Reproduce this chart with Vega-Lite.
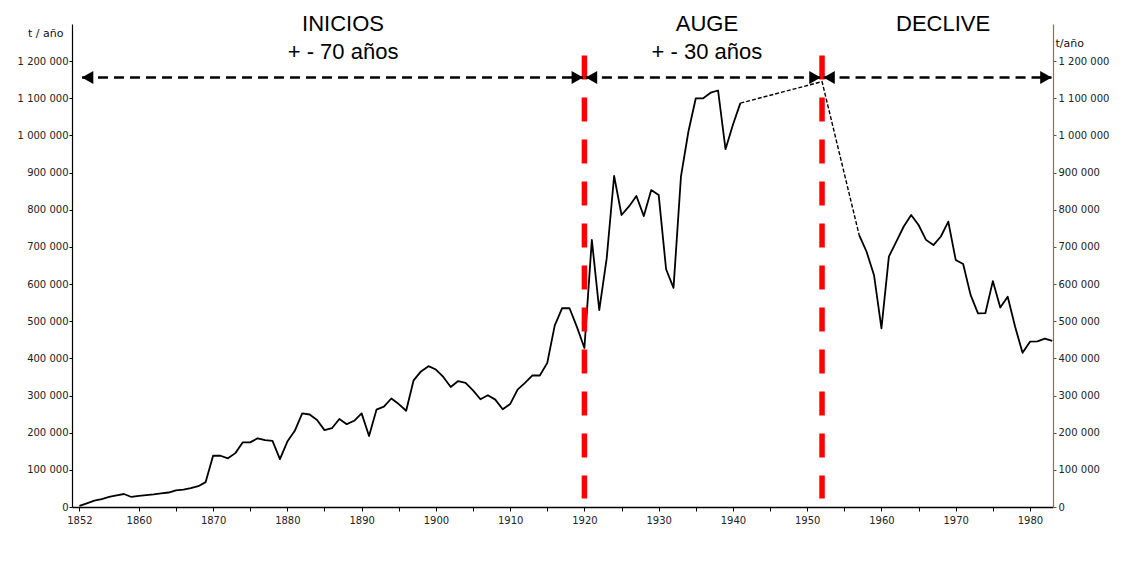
{
  "$schema": "https://vega.github.io/schema/vega-lite/v6.json",
  "width": 981,
  "height": 483,
  "autosize": "none",
  "padding": {"left": 72, "top": 24, "right": 80, "bottom": 60},
  "background": "white",
  "config": {
    "view": {"stroke": null}
  },
  "datasets": {
    "produccion": [
      {"year": 1852, "t": 3000, "tramo": "A"}, {"year": 1853, "t": 10000, "tramo": "A"},
      {"year": 1854, "t": 17000, "tramo": "A"}, {"year": 1855, "t": 21000, "tramo": "A"},
      {"year": 1856, "t": 27000, "tramo": "A"}, {"year": 1857, "t": 31000, "tramo": "A"},
      {"year": 1858, "t": 35000, "tramo": "A"}, {"year": 1859, "t": 27000, "tramo": "A"},
      {"year": 1860, "t": 30000, "tramo": "A"}, {"year": 1861, "t": 32000, "tramo": "A"},
      {"year": 1862, "t": 34000, "tramo": "A"}, {"year": 1863, "t": 36500, "tramo": "A"},
      {"year": 1864, "t": 39000, "tramo": "A"}, {"year": 1865, "t": 44500, "tramo": "A"},
      {"year": 1866, "t": 47000, "tramo": "A"}, {"year": 1867, "t": 51000, "tramo": "A"},
      {"year": 1868, "t": 56000, "tramo": "A"}, {"year": 1869, "t": 67000, "tramo": "A"},
      {"year": 1870, "t": 138000, "tramo": "A"}, {"year": 1871, "t": 138000, "tramo": "A"},
      {"year": 1872, "t": 131000, "tramo": "A"}, {"year": 1873, "t": 145000, "tramo": "A"},
      {"year": 1874, "t": 174000, "tramo": "A"}, {"year": 1875, "t": 174000, "tramo": "A"},
      {"year": 1876, "t": 185000, "tramo": "A"}, {"year": 1877, "t": 180000, "tramo": "A"},
      {"year": 1878, "t": 178000, "tramo": "A"}, {"year": 1879, "t": 129000, "tramo": "A"},
      {"year": 1880, "t": 176000, "tramo": "A"}, {"year": 1881, "t": 205000, "tramo": "A"},
      {"year": 1882, "t": 252000, "tramo": "A"}, {"year": 1883, "t": 249000, "tramo": "A"},
      {"year": 1884, "t": 234000, "tramo": "A"}, {"year": 1885, "t": 207000, "tramo": "A"},
      {"year": 1886, "t": 212000, "tramo": "A"}, {"year": 1887, "t": 237000, "tramo": "A"},
      {"year": 1888, "t": 223000, "tramo": "A"}, {"year": 1889, "t": 232000, "tramo": "A"},
      {"year": 1890, "t": 252000, "tramo": "A"}, {"year": 1891, "t": 191000, "tramo": "A"},
      {"year": 1892, "t": 262000, "tramo": "A"}, {"year": 1893, "t": 270000, "tramo": "A"},
      {"year": 1894, "t": 292000, "tramo": "A"}, {"year": 1895, "t": 277000, "tramo": "A"},
      {"year": 1896, "t": 259000, "tramo": "A"}, {"year": 1897, "t": 341000, "tramo": "A"},
      {"year": 1898, "t": 365000, "tramo": "A"}, {"year": 1899, "t": 379000, "tramo": "A"},
      {"year": 1900, "t": 370000, "tramo": "A"}, {"year": 1901, "t": 350000, "tramo": "A"},
      {"year": 1902, "t": 323000, "tramo": "A"}, {"year": 1903, "t": 339000, "tramo": "A"},
      {"year": 1904, "t": 334000, "tramo": "A"}, {"year": 1905, "t": 314000, "tramo": "A"},
      {"year": 1906, "t": 290000, "tramo": "A"}, {"year": 1907, "t": 301000, "tramo": "A"},
      {"year": 1908, "t": 289000, "tramo": "A"}, {"year": 1909, "t": 263000, "tramo": "A"},
      {"year": 1910, "t": 277000, "tramo": "A"}, {"year": 1911, "t": 316000, "tramo": "A"},
      {"year": 1912, "t": 334000, "tramo": "A"}, {"year": 1913, "t": 354000, "tramo": "A"},
      {"year": 1914, "t": 354000, "tramo": "A"}, {"year": 1915, "t": 388000, "tramo": "A"},
      {"year": 1916, "t": 488000, "tramo": "A"}, {"year": 1917, "t": 535000, "tramo": "A"},
      {"year": 1918, "t": 535000, "tramo": "A"}, {"year": 1919, "t": 484000, "tramo": "A"},
      {"year": 1920, "t": 428000, "tramo": "A"}, {"year": 1921, "t": 719000, "tramo": "A"},
      {"year": 1922, "t": 530000, "tramo": "A"}, {"year": 1923, "t": 669000, "tramo": "A"},
      {"year": 1924, "t": 891000, "tramo": "A"}, {"year": 1925, "t": 786000, "tramo": "A"},
      {"year": 1926, "t": 809000, "tramo": "A"}, {"year": 1927, "t": 837000, "tramo": "A"},
      {"year": 1928, "t": 783000, "tramo": "A"}, {"year": 1929, "t": 853000, "tramo": "A"},
      {"year": 1930, "t": 840000, "tramo": "A"}, {"year": 1931, "t": 640000, "tramo": "A"},
      {"year": 1932, "t": 590000, "tramo": "A"}, {"year": 1933, "t": 889000, "tramo": "A"},
      {"year": 1934, "t": 1010000, "tramo": "A"}, {"year": 1935, "t": 1100000, "tramo": "A"},
      {"year": 1936, "t": 1100000, "tramo": "A"}, {"year": 1937, "t": 1115000, "tramo": "A"},
      {"year": 1938, "t": 1121000, "tramo": "A"}, {"year": 1939, "t": 963000, "tramo": "A"},
      {"year": 1940, "t": 1029000, "tramo": "A"}, {"year": 1941, "t": 1087000, "tramo": "A"},
      {"year": 1957, "t": 732000, "tramo": "B"}, {"year": 1958, "t": 687000, "tramo": "B"},
      {"year": 1959, "t": 624000, "tramo": "B"}, {"year": 1960, "t": 481000, "tramo": "B"},
      {"year": 1961, "t": 674000, "tramo": "B"}, {"year": 1962, "t": 714000, "tramo": "B"},
      {"year": 1963, "t": 755000, "tramo": "B"}, {"year": 1964, "t": 786000, "tramo": "B"},
      {"year": 1965, "t": 759000, "tramo": "B"}, {"year": 1966, "t": 719000, "tramo": "B"},
      {"year": 1967, "t": 705000, "tramo": "B"}, {"year": 1968, "t": 728000, "tramo": "B"},
      {"year": 1969, "t": 768000, "tramo": "B"}, {"year": 1970, "t": 665000, "tramo": "B"},
      {"year": 1971, "t": 654000, "tramo": "B"}, {"year": 1972, "t": 571000, "tramo": "B"},
      {"year": 1973, "t": 521000, "tramo": "B"}, {"year": 1974, "t": 522000, "tramo": "B"},
      {"year": 1975, "t": 608000, "tramo": "B"}, {"year": 1976, "t": 537000, "tramo": "B"},
      {"year": 1977, "t": 566000, "tramo": "B"}, {"year": 1978, "t": 485000, "tramo": "B"},
      {"year": 1979, "t": 415000, "tramo": "B"}, {"year": 1980, "t": 445000, "tramo": "B"},
      {"year": 1981, "t": 446000, "tramo": "B"}, {"year": 1982, "t": 453000, "tramo": "B"},
      {"year": 1983, "t": 447000, "tramo": "B"}
    ],
    "estimado": [
      {"year": 1941, "t": 1087000},
      {"year": 1952, "t": 1145000},
      {"year": 1957, "t": 732000}
    ],
    "fases": [{"year": 1920}, {"year": 1952}],
    "flechas": [
      {"desde": 1852.35, "hasta": 1919.8, "nivel": 1156000},
      {"desde": 1920.2, "hasta": 1951.8, "nivel": 1156000},
      {"desde": 1952.2, "hasta": 1982.9, "nivel": 1156000}
    ],
    "puntas": [
      {"year": 1853.1, "nivel": 1156000, "dir": "izq"},
      {"year": 1919.05, "nivel": 1156000, "dir": "der"},
      {"year": 1920.95, "nivel": 1156000, "dir": "izq"},
      {"year": 1951.05, "nivel": 1156000, "dir": "der"},
      {"year": 1952.95, "nivel": 1156000, "dir": "izq"},
      {"year": 1982.15, "nivel": 1156000, "dir": "der"}
    ],
    "etiquetas": [
      {"year": 1887.5, "nivel": 1280000, "texto": "INICIOS"},
      {"year": 1887.5, "nivel": 1205000, "texto": "+ - 70 años"},
      {"year": 1936.5, "nivel": 1280000, "texto": "AUGE"},
      {"year": 1936.5, "nivel": 1205000, "texto": "+ - 30 años"},
      {"year": 1968.3, "nivel": 1280000, "texto": "DECLIVE"}
    ]
  },
  "layer": [
    {
      "data": {"name": "produccion"},
      "mark": {"type": "line", "color": "black", "strokeWidth": 1.8, "strokeJoin": "round"},
      "encoding": {
        "x": {
          "field": "year", "type": "quantitative",
          "scale": {"domain": [1851, 1983.1], "nice": false, "zero": false},
          "axis": {
            "orient": "bottom",
            "title": null,
            "values": [1852, 1860, 1870, 1880, 1890, 1900, 1910, 1920, 1930, 1940, 1950, 1960, 1970, 1980],
            "format": "d",
            "labelOverlap": false,
            "labelFlush": false,
            "grid": false,
            "domainColor": "black",
            "domainWidth": 1.3,
            "tickColor": "black",
            "tickSize": 4,
            "labelPadding": 4,
            "labelFont": "DejaVu Sans",
            "labelFontSize": 10,
            "labelColor": "#222222"
          }
        },
        "y": {
          "field": "t", "type": "quantitative",
          "scale": {"domain": [0, 1300000], "nice": false},
          "axis": {
            "orient": "left",
            "values": [0, 100000, 200000, 300000, 400000, 500000, 600000, 700000, 800000, 900000, 1000000, 1100000, 1200000],
            "labelExpr": "replace(replace(format(datum.value, ',d'), ',', ' '), ',', ' ')",
            "grid": false,
            "domainColor": "black",
            "domainWidth": 1.2,
            "tickColor": "black",
            "tickSize": 3,
            "labelPadding": 1,
            "labelFont": "DejaVu Sans",
            "labelFontSize": 10,
            "labelColor": "#222222",
            "title": "t / año",
            "titleAngle": 0,
            "titleAlign": "right",
            "titleBaseline": "alphabetic",
            "titleX": -9,
            "titleY": 12,
            "titleFont": "DejaVu Sans",
            "titleFontSize": 11,
            "titleFontWeight": "normal",
            "titleColor": "#111111"
          }
        },
        "detail": {"field": "tramo", "type": "nominal"}
      }
    },
    {
      "data": {"name": "estimado"},
      "mark": {"type": "line", "color": "black", "strokeWidth": 1.4, "strokeDash": [4, 2]},
      "encoding": {
        "x": {
          "field": "year", "type": "quantitative",
          "scale": {"domain": [1851, 1983.1], "nice": false, "zero": false},
          "axis": {
            "orient": "bottom",
            "title": null,
            "values": [1865, 1875, 1885, 1895, 1905, 1915, 1925, 1935, 1945, 1955, 1965, 1975],
            "labels": false,
            "domain": false,
            "grid": false,
            "tickColor": "black",
            "tickSize": 4
          }
        },
        "y": {
          "field": "t", "type": "quantitative",
          "scale": {"domain": [0, 1300000], "nice": false},
          "axis": {
            "orient": "right",
            "values": [0, 100000, 200000, 300000, 400000, 500000, 600000, 700000, 800000, 900000, 1000000, 1100000, 1200000],
            "labelExpr": "replace(replace(format(datum.value, ',d'), ',', ' '), ',', ' ')",
            "grid": false,
            "domainColor": "#7d7560",
            "domainWidth": 1.2,
            "tickColor": "#555555",
            "tickSize": 3,
            "labelPadding": 2,
            "labelFont": "DejaVu Sans",
            "labelFontSize": 10,
            "labelColor": "#222222",
            "title": "t/año",
            "titleAngle": 0,
            "titleAlign": "left",
            "titleBaseline": "alphabetic",
            "titleX": 2,
            "titleY": 22,
            "titleFont": "DejaVu Sans",
            "titleFontSize": 11,
            "titleFontWeight": "normal",
            "titleColor": "#111111"
          }
        }
      }
    },
    {
      "data": {"name": "fases"},
      "mark": {"type": "rule", "color": "#ff0000", "strokeWidth": 5.5, "strokeDash": [24, 18]},
      "encoding": {
        "x": {"field": "year", "type": "quantitative", "axis": null, "scale": {"domain": [1851, 1983.1], "nice": false, "zero": false}},
        "y": {"datum": 1215000, "type": "quantitative", "axis": null, "scale": {"domain": [0, 1300000], "nice": false}},
        "y2": {"datum": 23000}
      }
    },
    {
      "data": {"name": "flechas"},
      "mark": {"type": "rule", "color": "black", "strokeWidth": 2.5, "strokeDash": [10, 6]},
      "encoding": {
        "x": {"field": "desde", "type": "quantitative", "axis": null, "scale": {"domain": [1851, 1983.1], "nice": false, "zero": false}},
        "x2": {"field": "hasta"},
        "y": {"field": "nivel", "type": "quantitative", "axis": null, "scale": {"domain": [0, 1300000], "nice": false}}
      }
    },
    {
      "data": {"name": "puntas"},
      "mark": {"type": "point", "filled": true, "color": "black", "opacity": 1, "size": 175},
      "encoding": {
        "x": {"field": "year", "type": "quantitative", "axis": null, "scale": {"domain": [1851, 1983.1], "nice": false, "zero": false}},
        "y": {"field": "nivel", "type": "quantitative", "axis": null, "scale": {"domain": [0, 1300000], "nice": false}},
        "shape": {"field": "dir", "type": "nominal", "legend": null, "scale": {"domain": ["izq", "der"], "range": ["triangle-left", "triangle-right"]}}
      }
    },
    {
      "data": {"name": "etiquetas"},
      "mark": {"type": "text", "font": "Liberation Sans", "fontSize": 22, "color": "black", "align": "center", "baseline": "alphabetic"},
      "encoding": {
        "x": {"field": "year", "type": "quantitative", "axis": null, "scale": {"domain": [1851, 1983.1], "nice": false, "zero": false}},
        "y": {"field": "nivel", "type": "quantitative", "axis": null, "scale": {"domain": [0, 1300000], "nice": false}},
        "text": {"field": "texto", "type": "nominal"}
      }
    }
  ],
  "resolve": {"axis": {"x": "independent", "y": "independent"}}
}
